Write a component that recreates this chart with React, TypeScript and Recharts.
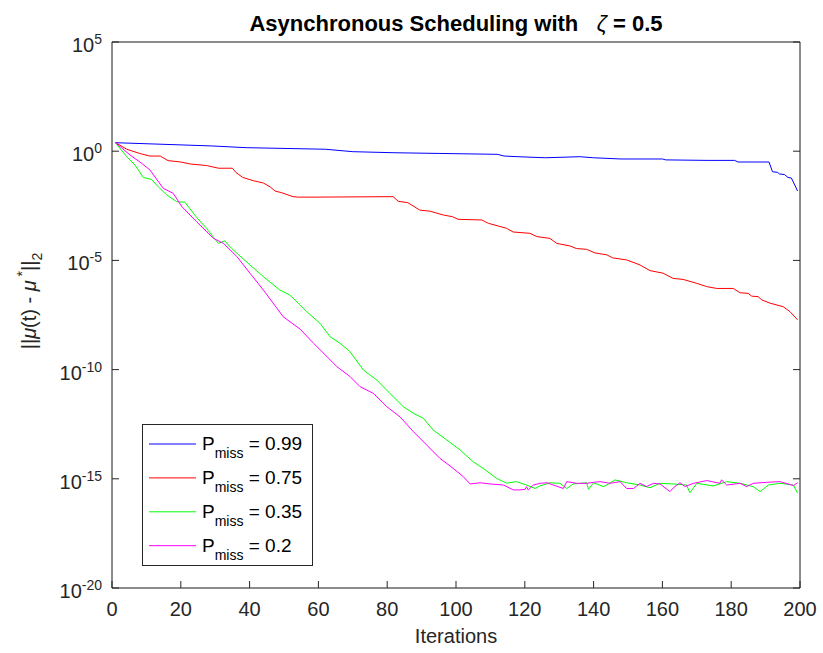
import React from 'react';
import { LineChart, Line, XAxis, YAxis, CartesianGrid } from 'recharts';

// [iteration, ||mu(t) - mu*||_2]
const pmiss099: [number, number][] = [
  [1, 2.45], [29, 1.74], [39, 1.45], [62, 1.23], [70, 0.95], [82, 0.85], [95, 0.79], [112, 0.72],
  [114, 0.6], [118, 0.56], [126, 0.5], [136, 0.56], [140, 0.5], [148, 0.44], [160, 0.44], [161, 0.4],
  [173, 0.38], [181, 0.38], [182, 0.32], [191, 0.32], [192, 0.115], [193.5, 0.107], [194, 0.091],
  [195.5, 0.085], [196.5, 0.063], [197.5, 0.059], [198.5, 0.028], [199.3, 0.015],
];

const pmiss075: [number, number][] = [
  [1, 2.45], [4.3, 1.23], [8, 0.79], [11, 0.6], [14, 0.6], [16.3, 0.37], [20, 0.32], [22.7, 0.26],
  [27.5, 0.22], [31, 0.166], [35, 0.166], [36, 0.107], [38, 0.063], [41, 0.045], [44, 0.035],
  [46, 0.023], [47.4, 0.015], [49.3, 0.0126], [52.6, 0.0083], [54, 0.0079], [59.5, 0.0079],
  [81.7, 0.0083], [83.2, 0.0051], [86, 0.0044], [89.5, 0.002], [92.4, 0.0018], [96.3, 0.0012],
  [99, 0.001], [100.6, 7.6e-4], [107.5, 7.1e-4], [109.4, 5e-4], [114.7, 2.95e-4], [116.6, 2.0e-4],
  [121.5, 1.74e-4], [123.5, 1.23e-4], [127.3, 1.02e-4], [129.3, 6.0e-5], [133.1, 4.6e-5],
  [135, 3.5e-5], [138, 3.2e-5], [140.4, 2.2e-5], [143.8, 1.8e-5], [145.6, 1.3e-5], [149.6, 1.05e-5],
  [153.5, 6.2e-6], [156.4, 3.4e-6], [160.2, 2.6e-6], [163.1, 1.5e-6], [166, 1.35e-6], [170, 8.9e-7],
  [172.9, 6.3e-7], [175.8, 5.2e-7], [180.6, 5.2e-7], [182.6, 3.3e-7], [184.9, 3.1e-7], [186, 2.3e-7],
  [187.8, 2.2e-7], [188.9, 1.55e-7], [191.3, 1.1e-7], [195.1, 7.6e-8], [197.1, 4.5e-8], [199.3, 1.9e-8],
];

const pmiss035: [number, number][] = [
  [1, 2.45], [4.3, 0.56], [6.7, 0.23], [9.1, 0.063], [11.5, 0.051], [13.5, 0.023], [15.9, 0.01],
  [18.8, 0.0049], [21.2, 0.0046], [24.6, 9.3e-4], [27.5, 2.95e-4], [30.9, 6.0e-5], [32.8, 7.8e-5],
  [34.8, 3.5e-5], [40.1, 6.2e-6], [44, 1.8e-6], [48.8, 4.4e-7], [51.7, 2.6e-7], [54.7, 9.1e-8],
  [56.6, 4.5e-8], [60.5, 1.3e-8], [63.4, 3.2e-9], [66.3, 1.6e-9], [69.2, 6.6e-10], [73.1, 9.5e-11],
  [77, 3.3e-11], [80.8, 8.1e-12], [84.7, 2.0e-12], [87.6, 1.0e-12], [90.5, 5.9e-13], [93.4, 1.7e-13],
  [97.3, 6.0e-14], [101.2, 2.1e-14], [105, 6.0e-15], [107.9, 3.0e-15], [111.8, 1.05e-15],
  [114.7, 6.3e-16], [117.6, 7.4e-16], [120.5, 5.2e-16], [123, 3.6e-16], [124.4, 4.7e-16],
  [127.3, 6.6e-16], [130.2, 6.2e-16], [132.2, 3.6e-16], [134.1, 5.8e-16], [138, 6.6e-16],
  [138.5, 3.3e-16], [140, 6.6e-16], [142.8, 4.4e-16], [143.8, 5.2e-16], [146.2, 8.9e-16],
  [149.6, 6.6e-16], [153.5, 5.2e-16], [156.4, 3.9e-16], [159.3, 6.2e-16], [163.2, 5.8e-16],
  [167, 5.2e-16], [168, 2.3e-16], [170, 6.2e-16], [174.8, 4.7e-16], [178.7, 7.4e-16], [182.6, 6.2e-16],
  [186.4, 4.4e-16], [188.4, 2.6e-16], [190.8, 5.2e-16], [194.2, 6.2e-16], [198.1, 5.2e-16],
  [199.3, 2.2e-16],
];

const pmiss020: [number, number][] = [
  [1, 2.45], [5.2, 0.68], [8.6, 0.28], [11, 0.14], [14.9, 0.02], [17.8, 0.0117], [20.3, 0.0029],
  [24.6, 5.9e-4], [29.5, 1.02e-4], [32.4, 6.0e-5], [36.3, 1.5e-5], [40.1, 2.6e-6], [44, 4.4e-7],
  [49.8, 2.6e-8], [54.7, 7.1e-9], [58.6, 1.6e-9], [62.5, 3.9e-10], [65.4, 1.35e-10], [69.2, 4.8e-11],
  [72.1, 1.66e-11], [76, 8.1e-12], [79.9, 2.0e-12], [83.7, 6.9e-13], [87.6, 1.45e-13], [91.5, 3.5e-14],
  [95.3, 8.7e-15], [99.2, 3.0e-15], [102.1, 1.26e-15], [104.1, 5.8e-16], [107, 6.6e-16],
  [109.9, 5.8e-16], [113.8, 5.2e-16], [116.7, 3.1e-16], [118.6, 3.1e-16], [120.1, 3.3e-16],
  [120.5, 4.4e-16], [121, 3.1e-16], [122.5, 5.2e-16], [124.4, 6.2e-16], [126.4, 6.6e-16],
  [128.3, 5.2e-16], [131.2, 3.6e-16], [132.2, 7.4e-16], [135.1, 6.2e-16], [138, 6.2e-16],
  [140, 6.9e-16], [141.9, 7.4e-16], [144.8, 6.2e-16], [147.7, 7.4e-16], [149.6, 3.6e-16],
  [151.6, 3.6e-16], [153.5, 6.2e-16], [155.4, 4.4e-16], [157.4, 6.2e-16], [159.3, 5.8e-16],
  [162.2, 2.6e-16], [163.2, 3.9e-16], [165.1, 6.6e-16], [166.6, 4.4e-16], [169, 6.2e-16],
  [172.9, 8.3e-16], [176.7, 6.2e-16], [177.2, 8.9e-16], [178.7, 5.2e-16], [182.6, 6.2e-16],
  [184.5, 4.4e-16], [186.4, 6.2e-16], [190.3, 6.9e-16], [194.2, 7.4e-16], [198.1, 4.9e-16],
  [199.3, 6.6e-16],
];

const iterTicks = [0, 20, 40, 60, 80, 100, 120, 140, 160, 180, 200];
const decadeTicks = [1e-20, 1e-15, 1e-10, 1e-5, 1, 1e5];

const series = [
  { key: '0.99', color: '#0000ff', points: pmiss099 },
  { key: '0.75', color: '#ff0000', points: pmiss075 },
  { key: '0.35', color: '#00ff00', points: pmiss035 },
  { key: '0.2', color: '#ff00ff', points: pmiss020 },
];

const FONT = '"Liberation Sans", Arial, Helvetica, sans-serif';
const AXIS = '#262626';
const TICK_LEN = 7;

const BottomTick = (props: any) => {
  const { x, y, payload } = props;
  return (
    <g>
      <line x1={x} x2={x} y1={y} y2={y - TICK_LEN} stroke={AXIS} strokeWidth={1} />
      <text x={x} y={y + 28} textAnchor="middle" fontSize={20} fill={AXIS} fontFamily={FONT}>
        {payload.value}
      </text>
    </g>
  );
};

const TopTick = (props: any) => {
  const { x, y } = props;
  return <line x1={x} x2={x} y1={y} y2={y + TICK_LEN} stroke={AXIS} strokeWidth={1} />;
};

const LeftTick = (props: any) => {
  const { x, y, payload } = props;
  const exp = Math.round(Math.log10(payload.value));
  return (
    <g>
      <line x1={x + 10} x2={x + 10 + TICK_LEN} y1={y} y2={y} stroke={AXIS} strokeWidth={1} />
      <text x={x} y={y + 10} textAnchor="end" fontSize={20} fill={AXIS} fontFamily={FONT}>
        <tspan>10</tspan>
        <tspan dy={-8} fontSize={14}>{exp}</tspan>
      </text>
    </g>
  );
};

const RightTick = (props: any) => {
  const { x, y } = props;
  return <line x1={x} x2={x - TICK_LEN} y1={y} y2={y} stroke={AXIS} strokeWidth={1} />;
};

const toRows = (pts: [number, number][]) => pts.map(([it, v]) => ({ it, v }));

export default function App() {
  return (
    <div style={{ position: 'absolute', left: 0, top: 0, width: 823, height: 653, background: '#fff' }}>
      <LineChart width={823} height={653} margin={{ top: 41, right: 22, bottom: 35, left: 52 }}>
        <CartesianGrid stroke="#e3e3e3" strokeWidth={1} />
        <XAxis
          xAxisId="b"
          dataKey="it"
          type="number"
          domain={[0, 200]}
          ticks={iterTicks}
          height={30}
          tickSize={0}
          tickMargin={0}
          tickLine={false}
          stroke={AXIS}
          tick={<BottomTick />}
          allowDataOverflow
        />
        <XAxis
          xAxisId="t"
          orientation="top"
          dataKey="it"
          type="number"
          domain={[0, 200]}
          ticks={iterTicks}
          height={1}
          tickSize={0}
          tickMargin={0}
          tickLine={false}
          stroke={AXIS}
          tick={<TopTick />}
        />
        <YAxis
          yAxisId="l"
          dataKey="v"
          type="number"
          scale="log"
          domain={[1e-20, 1e5]}
          ticks={decadeTicks}
          width={60}
          tickSize={0}
          tickMargin={10}
          tickLine={false}
          stroke={AXIS}
          tick={<LeftTick />}
          allowDataOverflow
        />
        <YAxis
          yAxisId="r"
          orientation="right"
          dataKey="v"
          type="number"
          scale="log"
          domain={[1e-20, 1e5]}
          ticks={decadeTicks}
          width={1}
          tickSize={0}
          tickMargin={0}
          tickLine={false}
          stroke={AXIS}
          tick={<RightTick />}
          allowDataOverflow
        />
        {series.map((s) => (
          <Line
            key={s.key}
            xAxisId="b"
            yAxisId="l"
            data={toRows(s.points)}
            dataKey="v"
            type="linear"
            stroke={s.color}
            strokeWidth={1}
            dot={false}
            isAnimationActive={false}
          />
        ))}
      </LineChart>
      <svg
        width={823}
        height={653}
        style={{ position: 'absolute', left: 0, top: 0, pointerEvents: 'none' }}
        fontFamily={FONT}
      >
        <text x={456} y={31} textAnchor="middle" fontSize={22} fontWeight="bold" fill="#000">
          Asynchronous Scheduling with{'\u00a0\u00a0\u00a0'}
          <tspan fontStyle="italic" fontWeight="normal">ζ</tspan>
          <tspan>{'\u00a0'}= 0.5</tspan>
        </text>
        <text x={456} y={643} textAnchor="middle" fontSize={20} fill={AXIS}>
          Iterations
        </text>
        <text
          transform="translate(36, 301) rotate(-90)"
          textAnchor="middle"
          fontSize={20}
          fill={AXIS}
        >
          <tspan>||</tspan>
          <tspan fontStyle="italic">μ</tspan>
          <tspan>(t) - </tspan>
          <tspan fontStyle="italic">μ</tspan>
          <tspan dy={-9} fontSize={14}> *</tspan>
          <tspan dy={9}>||</tspan>
          <tspan dy={6} fontSize={14}>2</tspan>
        </text>
        <rect x={142.5} y={424.5} width={170} height={141} fill="#fff" stroke={AXIS} strokeWidth={1} />
        {series.map((s, i) => {
          const ly = 444 + i * 33.9;
          return (
            <g key={s.key}>
              <line x1={149} x2={196} y1={ly} y2={ly} stroke={s.color} strokeWidth={1} />
              <text x={202} y={ly + 6} fontSize={19} fill="#000">
                <tspan>P</tspan>
                <tspan dy={8} fontSize={14}>miss</tspan>
                <tspan dy={-8}>{` = ${s.key}`}</tspan>
              </text>
            </g>
          );
        })}
      </svg>
    </div>
  );
}
